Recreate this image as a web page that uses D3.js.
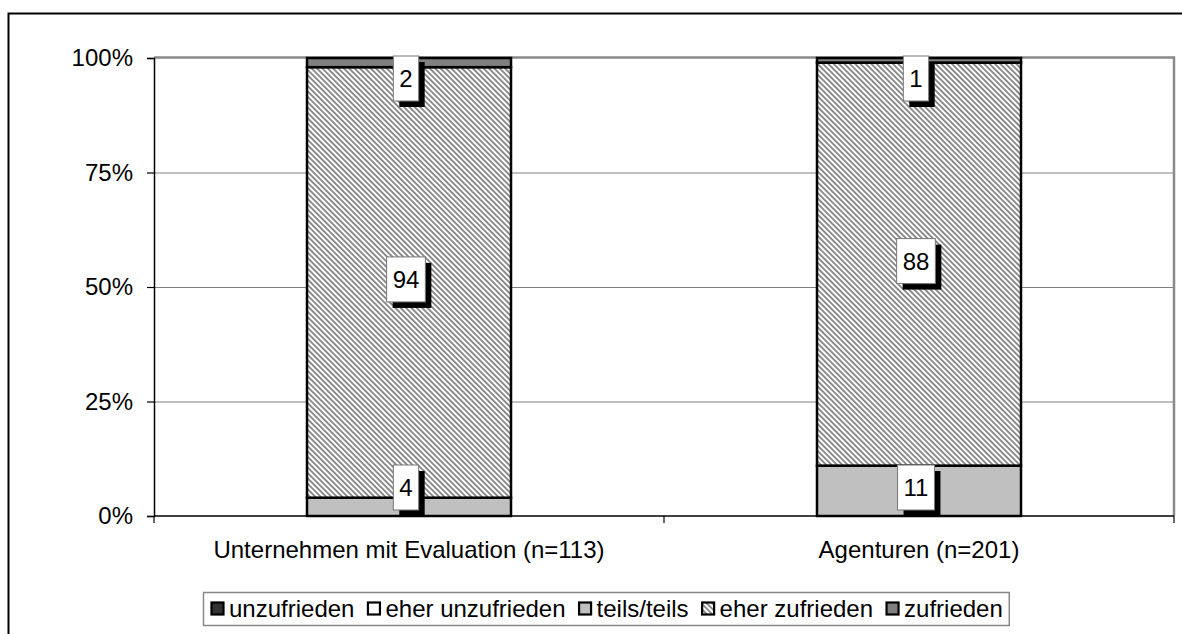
<!DOCTYPE html>
<html>
<head>
<meta charset="utf-8">
<script src="https://cdn.jsdelivr.net/npm/d3@7"></script>
<style>
  html, body { margin: 0; padding: 0; background: #fff; }
  svg { display: block; font-family: "Liberation Sans", Arial, sans-serif; }
</style>
</head>
<body>
<svg id="chart" width="1182" height="634"></svg>
<script>
// Satisfaction shares (percent) per respondent group
const categories = ["Unternehmen mit Evaluation (n=113)", "Agenturen (n=201)"];
const seriesNames = ["unzufrieden", "eher unzufrieden", "teils/teils", "eher zufrieden", "zufrieden"];
const unzufrieden = [0, 0];
const eherUnzufrieden = [0, 0];
const teilsTeils = [4, 11];
const eherZufrieden = [94, 88];
const zufrieden = [2, 1];
const yTicks = [0, 25, 50, 75, 100];

const seriesValues = [unzufrieden, eherUnzufrieden, teilsTeils, eherZufrieden, zufrieden];
const rows = categories.map((c, i) => {
  const r = { category: c };
  seriesNames.forEach((s, k) => { r[s] = seriesValues[k][i]; });
  return r;
});

const fills = {
  "unzufrieden": "#333333",
  "eher unzufrieden": "#ffffff",
  "teils/teils": "#c0c0c0",
  "eher zufrieden": "url(#hatch)",
  "zufrieden": "#808080"
};

const svg = d3.select("#chart");
const W = 1182, H = 634;
const plot = { left: 154, right: 1174, top: 58, bottom: 516 };
const fontSize = 24;

svg.append("rect").attr("width", W).attr("height", H).attr("fill", "#fff");

// diagonal hatch
const defs = svg.append("defs");
const pat = defs.append("pattern")
  .attr("id", "hatch")
  .attr("patternUnits", "userSpaceOnUse")
  .attr("width", 3.8).attr("height", 3.8)
  .attr("patternTransform", "rotate(-45)");
pat.append("rect").attr("width", 3.8).attr("height", 3.8).attr("fill", "#ffffff");
pat.append("rect").attr("width", 1.9).attr("height", 3.8).attr("fill", "#8a8a8a");

// outer chart frame
svg.append("rect")
  .attr("x", 8.5).attr("y", 13.5)
  .attr("width", W + 20).attr("height", H + 20)
  .attr("fill", "none").attr("stroke", "#000").attr("stroke-width", 2);

const x = d3.scaleBand().domain(categories)
  .range([plot.left, plot.right]).paddingInner(0.6).paddingOuter(0.3);
const y = d3.scaleLinear().domain([0, 100]).range([plot.bottom, plot.top]);

// gridlines
svg.append("g").selectAll("line").data(yTicks.filter(t => t > 0 && t < 100)).join("line")
  .attr("x1", plot.left).attr("x2", plot.right)
  .attr("y1", d => y(d) + 0.5).attr("y2", d => y(d) + 0.5)
  .attr("stroke", "#808080").attr("stroke-width", 1);

// plot area border top/right
svg.append("path")
  .attr("d", `M${plot.left},${plot.top - 0.5}H${plot.right}V${plot.bottom}`)
  .attr("fill", "none").attr("stroke", "#8a8a8a").attr("stroke-width", 2.5);

// stacked bars
const stack = d3.stack().keys(seriesNames);
const layers = stack(rows);
const barG = svg.append("g");
layers.forEach(layer => {
  barG.append("g").selectAll("rect").data(layer.filter(d => d[1] > d[0])).join("rect")
    .attr("x", d => x(d.data.category))
    .attr("width", x.bandwidth())
    .attr("y", d => y(d[1]))
    .attr("height", d => y(d[0]) - y(d[1]))
    .attr("fill", fills[layer.key])
    .attr("stroke", "#000").attr("stroke-width", 2.5);
});

// axes
const yAxis = d3.axisLeft(y).tickValues(yTicks).tickFormat(d => d + "%").tickSize(7).tickPadding(14);
const gy = svg.append("g").attr("transform", `translate(${plot.left},0)`).call(yAxis);
gy.select(".domain").attr("stroke", "#000").attr("stroke-width", 1.5);
gy.selectAll(".tick line").attr("stroke", "#000").attr("stroke-width", 1.2);
gy.selectAll("text").attr("font-size", fontSize).attr("fill", "#000")
  .attr("font-family", "Liberation Sans, Arial, sans-serif");

const gx = svg.append("g").attr("transform", `translate(0,${plot.bottom})`);
gx.append("line").attr("x1", plot.left).attr("x2", plot.right)
  .attr("stroke", "#000").attr("stroke-width", 1.5);
const boundaries = [plot.left, (plot.left + plot.right) / 2, plot.right];
gx.selectAll("line.tk").data(boundaries).join("line").attr("class", "tk")
  .attr("x1", d => d).attr("x2", d => d).attr("y1", 0).attr("y2", 7)
  .attr("stroke", "#000").attr("stroke-width", 1.2);
gx.selectAll("text").data(categories).join("text")
  .attr("x", d => x(d) + x.bandwidth() / 2)
  .attr("y", 42)
  .attr("text-anchor", "middle")
  .attr("font-size", fontSize)
  .text(d => d);

// value labels with drop shadow
const labelG = svg.append("g");
const shadow = 6;
layers.forEach(layer => {
  layer.filter(d => d[1] > d[0]).forEach(d => {
    const val = d[1] - d[0];
    const cx = x(d.data.category) + x.bandwidth() / 2 - shadow / 2;
    const g = labelG.append("g");
    const t = g.append("text").attr("font-size", fontSize).attr("text-anchor", "middle").text(val);
    const tw = t.node().getComputedTextLength();
    const bw = tw + 12, bh = 45;
    let top = y((d[0] + d[1]) / 2) - bh / 2 - shadow / 2;
    top = Math.max(top, plot.top - 2);
    top = Math.min(top, plot.bottom - shadow - bh);
    g.insert("rect", "text").attr("x", cx - bw / 2 + shadow).attr("y", top + shadow)
      .attr("width", bw).attr("height", bh).attr("fill", "#000");
    g.insert("rect", "text").attr("x", cx - bw / 2).attr("y", top)
      .attr("width", bw).attr("height", bh).attr("fill", "#fff")
      .attr("stroke", "#777").attr("stroke-width", 1);
    t.attr("x", cx).attr("y", top + bh / 2 + fontSize * 0.36);
  });
});

// legend
const legend = svg.append("g");
const lgFont = 24;
const lgLeft = 203, lgTop = 592, lgH = 33;
let cursor = lgLeft + 8;
const items = legend.append("g");
seriesNames.forEach(name => {
  items.append("rect").attr("x", cursor + 0.5).attr("y", lgTop + 10.5)
    .attr("width", 12).attr("height", 12)
    .attr("fill", fills[name]).attr("stroke", "#000").attr("stroke-width", 2.2);
  const t = items.append("text").attr("x", cursor + 18).attr("y", lgTop + 25)
    .attr("font-size", lgFont).text(name);
  cursor += 18 + t.node().getComputedTextLength() + 13;
});
legend.insert("rect", "g")
  .attr("x", lgLeft + 0.5).attr("y", lgTop + 0.5)
  .attr("width", cursor - lgLeft - 7).attr("height", lgH)
  .attr("fill", "#fff").attr("stroke", "#888").attr("stroke-width", 1.5);
</script>
</body>
</html>
